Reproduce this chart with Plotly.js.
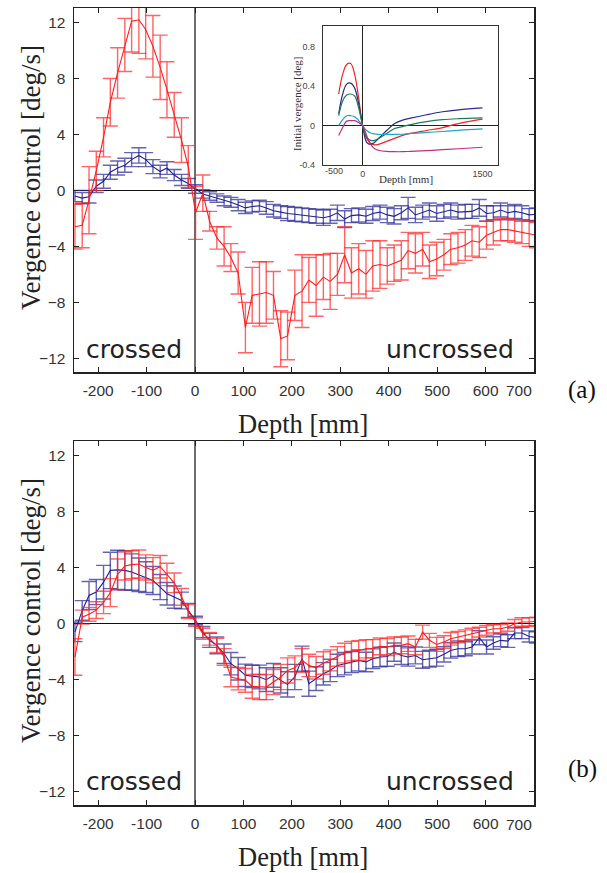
<!DOCTYPE html>
<html>
<head>
<meta charset="utf-8">
<script src="https://cdn.plot.ly/plotly-3.0.1.min.js"></script>
<style>html,body{margin:0;padding:0;background:#fff;}#chart{width:607px;height:873px;}</style>
</head>
<body>
<div id="chart"></div>
<script>
// ---------- data (depth in mm, vergence control in deg/s) ----------
const depth = [-248, -233, -219, -204, -189, -175, -160, -145, -131, -116, -102, -87, -72, -58, -43, -28, -14,
  1, 16, 30, 45, 60, 74, 89, 104, 118, 133, 147, 162, 177, 191, 206, 221, 235, 250, 265, 279, 294, 309, 323,
  338, 353, 367, 382, 397, 411, 426, 440, 455, 470, 484, 499, 514, 528, 543, 558, 572, 587, 602, 616, 631,
  646, 660, 675, 690, 705];

// panel (a)
const aRed = [-2.6, -2.5, -0.7, 1.4, 3.8, 6.3, 8.4, 10.4, 12.1, 12.2, 11.5, 10.3, 8.8, 7.2, 5.4, 3.6, 1.7,
  -1.6, -0.2, -2.2, -3.4, -4.0, -4.8, -5.9, -9.8, -7.5, -7.4, -7.3, -7.5, -10.6, -10.4, -7.5, -7.2, -6.4, -6.8,
  -6.2, -6.5, -6.0, -4.6, -5.9, -5.6, -6.0, -5.4, -5.3, -5.4, -5.2, -5.0, -4.3, -4.5, -4.2, -5.1, -4.9, -4.6,
  -4.2, -4.1, -3.9, -3.6, -3.7, -3.2, -3.0, -2.8, -2.8, -2.9, -3.0, -3.1, -3.2];
const aRedErr = [1.6, 1.6, 2.4, 1.4, 1.4, 1.7, 1.8, 1.9, 2.2, 2.4, 2.1, 2.2, 2.3, 2.0, 1.6, 1.6, 1.5,
  1.9, 1.3, 0.7, 0.8, 1.4, 1.0, 1.5, 1.8, 2.0, 2.3, 2.2, 1.7, 2.0, 1.7, 1.8, 2.6, 1.6, 2.2, 1.6, 2.0, 1.5, 2.0,
  1.8, 1.8, 1.7, 1.8, 1.7, 1.3, 1.3, 1.4, 1.3, 1.4, 1.2, 1.2, 1.2, 1.1, 1.1, 1.1, 1.1, 1.1, 1.1, 1.0, 0.9, 0.8,
  0.8, 0.8, 0.8, 0.9, 0.9];
const aBlue = [-0.4, -0.55, -0.45, 0.3, 0.65, 1.3, 1.6, 1.8, 2.2, 2.5, 2.2, 1.7, 1.35, 1.6, 1.1, 0.75, 0.5,
  0.1, -0.25, -0.4, -0.55, -0.75, -0.85, -1.05, -1.25, -1.15, -1.1, -1.25, -1.45, -1.55, -1.65, -1.7, -1.75,
  -1.8, -1.85, -1.95, -1.85, -1.6, -2.05, -1.8, -1.75, -1.85, -1.65, -1.55, -1.75, -1.85, -1.6, -1.25, -1.75,
  -1.55, -1.4, -1.65, -1.5, -1.4, -1.55, -1.5, -1.5, -1.25, -1.65, -1.6, -1.4, -1.6, -1.5, -1.6, -1.75, -1.7];
const aBlueErr = [0.4, 0.4, 0.45, 0.45, 0.5, 0.5, 0.5, 0.5, 0.5, 0.55, 0.5, 0.5, 0.45, 0.45, 0.4, 0.4, 0.35,
  0.3, 0.3, 0.3, 0.3, 0.35, 0.35, 0.4, 0.4, 0.4, 0.4, 0.45, 0.45, 0.45, 0.5, 0.5, 0.5, 0.5, 0.5, 0.55, 0.5,
  0.55, 0.6, 0.5, 0.5, 0.5, 0.5, 0.5, 0.55, 0.55, 0.5, 0.75, 0.55, 0.5, 0.5, 0.55, 0.5, 0.5, 0.5, 0.5, 0.5,
  0.6, 0.55, 0.5, 0.5, 0.5, 0.5, 0.5, 0.45, 0.45];

// panel (b)
const bRed = [-2.4, 0.45, 0.65, 0.95, 1.5, 2.2, 3.5, 4.1, 4.2, 4.25, 4.0, 3.8, 4.05, 3.5, 2.9, 1.9, 0.85,
  0.1, -0.74, -1.10, -1.57, -2.40, -3.83, -3.95, -4.07, -4.50, -4.55, -4.55, -4.19, -3.83, -3.36, -3.17, -2.64,
  -3.0, -3.17, -2.83, -2.64, -2.36, -2.12, -1.98, -1.93, -1.81, -1.81, -1.64, -1.69, -1.57, -1.57, -1.45, -1.69,
  -0.62, -1.21, -1.50, -1.33, -1.10, -0.98, -0.86, -0.74, -0.62, -0.50, -0.38, -0.38, -0.26, -0.02, 0.1, 0.1, 0.15];
const bRedErr = [1.3, 0.5, 0.5, 0.6, 0.8, 1.0, 1.1, 1.0, 1.0, 1.0, 0.9, 0.9, 0.8, 0.8, 0.7, 0.6, 0.5,
  0.3, 0.4, 0.45, 0.5, 0.6, 0.7, 0.8, 0.85, 0.85, 0.9, 0.9, 0.9, 0.9, 0.9, 0.85, 0.85, 0.8, 0.8, 0.8, 0.75,
  0.7, 0.7, 0.7, 0.7, 0.65, 0.65, 0.6, 0.6, 0.6, 0.6, 0.55, 0.55, 0.5, 0.5, 0.5, 0.45, 0.45, 0.4, 0.4, 0.4,
  0.35, 0.35, 0.3, 0.3, 0.3, 0.3, 0.3, 0.3, 0.3];
const bBlue = [-0.6, 0.93, 2.0, 2.24, 2.95, 3.79, 3.83, 3.79, 3.67, 3.48, 3.31, 3.07, 2.60, 2.12, 1.88, 1.64, 0.93,
  0.21, -0.62, -1.21, -1.57, -2.17, -2.88, -3.24, -3.71, -3.79, -3.83, -4.02, -3.71, -4.07, -4.36, -3.83, -2.52,
  -4.31, -3.95, -3.60, -3.36, -3.0, -2.88, -2.76, -2.64, -2.76, -2.52, -2.40, -2.36, -2.05, -2.29, -2.40, -2.29,
  -2.60, -2.52, -2.45, -2.21, -1.93, -1.81, -1.81, -1.69, -1.02, -1.69, -1.40, -1.21, -1.26, -0.69, -0.69, -0.93, -1.0];
const bBlueErr = [0.7, 0.7, 1.0, 0.9, 1.2, 1.3, 1.4, 1.4, 1.3, 1.2, 1.1, 1.0, 0.9, 0.8, 0.8, 0.6, 0.5,
  0.3, 0.4, 0.5, 0.6, 0.7, 0.8, 0.8, 0.8, 0.8, 0.85, 0.85, 0.85, 0.9, 0.9, 0.9, 0.9, 0.9, 0.85, 0.8, 0.8, 0.8,
  0.8, 0.75, 0.75, 0.7, 0.7, 0.7, 0.7, 0.65, 0.65, 0.65, 0.6, 0.6, 0.6, 0.6, 0.55, 0.55, 0.55, 0.5, 0.5, 0.5,
  0.5, 0.45, 0.45, 0.45, 0.4, 0.4, 0.4, 0.4];

// inset: initial vergence [deg]
const insetDepth = [-300, -250, -200, -150, -100, -50, 0, 50, 100, 150, 200, 300, 400, 500, 600, 800, 1000, 1200, 1500];
const insetRed = [0.32, 0.52, 0.62, 0.63, 0.52, 0.28, 0.0, -0.13, -0.18, -0.195, -0.19, -0.16, -0.13, -0.10, -0.08, -0.05, -0.02, 0.02, 0.065];
const insetNavy = [0.12, 0.32, 0.42, 0.43, 0.38, 0.22, 0.0, -0.17, -0.19, -0.17, -0.13, -0.05, 0.02, 0.055, 0.075, 0.11, 0.14, 0.16, 0.18];
const insetGreen = [0.10, 0.25, 0.31, 0.32, 0.30, 0.18, 0.0, -0.12, -0.15, -0.15, -0.13, -0.08, -0.03, -0.01, 0.01, 0.04, 0.06, 0.07, 0.078];
const insetCyan = [0.0, 0.06, 0.10, 0.10, 0.09, 0.05, 0.0, -0.05, -0.075, -0.085, -0.09, -0.09, -0.09, -0.088, -0.08, -0.07, -0.06, -0.048, -0.034];
const insetMagenta = [-0.10, -0.02, 0.045, 0.05, 0.05, 0.03, 0.0, -0.10, -0.19, -0.235, -0.25, -0.262, -0.265, -0.265, -0.262, -0.255, -0.245, -0.235, -0.22];

const xTicks = [-200, -100, 0, 100, 200, 300, 400, 500, 600, 700];
const xTickText = ['-200', '-100', '0', '100', '200', '300', '400', '500', '600', ''];
const yTicks = [-12, -8, -4, 0, 4, 8, 12];

// ---------- styles ----------
const W = 607, H = 873;
const px = v => v / W, py = v => 1 - v / H;
const RED = '#ff1c1c', RED_ERR = 'rgba(255,40,40,0.72)';
const BLUE = '#202090', BLUE_ERR = 'rgba(40,40,150,0.72)';
const sans = 'Liberation Sans, Arial, sans-serif';
const serif = 'Liberation Serif, Times New Roman, serif';
const label = 'DejaVu Sans, Verdana, sans-serif';
const TICK = 15.5;

function series(y, err, color, ecolor, xa, ya) {
  return {
    x: depth, y: y, xaxis: xa, yaxis: ya, type: 'scatter', mode: 'lines',
    line: {color: color, width: 1.1}, hoverinfo: 'skip', showlegend: false,
    error_y: {type: 'data', array: err, visible: true, color: ecolor, thickness: 1.4, width: 7.5}
  };
}
function inset(y, color) {
  return {x: insetDepth, y: y, xaxis: 'x3', yaxis: 'y3', type: 'scatter', mode: 'lines',
    line: {color: color, width: 1.2, shape: 'spline', smoothing: 1}, showlegend: false, hoverinfo: 'skip'};
}

const data = [
  series(aBlue, aBlueErr, BLUE, BLUE_ERR, 'x', 'y'),
  series(aRed, aRedErr, RED, RED_ERR, 'x', 'y'),
  series(bBlue, bBlueErr, BLUE, BLUE_ERR, 'x2', 'y2'),
  series(bRed, bRedErr, RED, RED_ERR, 'x2', 'y2'),
  inset(insetRed, '#f02424'),
  inset(insetNavy, '#2a2a8c'),
  inset(insetGreen, '#1f7a58'),
  inset(insetCyan, '#1fa6c0'),
  inset(insetMagenta, '#c2307c')
];

function xAxis(anchor, domain) {
  return {anchor: anchor, domain: domain, range: [-250, 700], tickvals: xTicks, ticktext: xTickText,
    ticks: 'inside', ticklen: 5, tickwidth: 1, tickcolor: '#222', showline: true, mirror: 'ticks',
    linecolor: '#222', linewidth: 1.5, showgrid: false, zeroline: true, zerolinecolor: '#6e6e6e',
    zerolinewidth: 2, ticklabelstandoff: 4, tickfont: {family: sans, size: TICK, color: '#333'}};
}
function yAxis(anchor, domain) {
  return {anchor: anchor, domain: domain, range: [-12.98, 13.04], tickvals: yTicks,
    ticks: 'inside', ticklen: 5, tickwidth: 1, tickcolor: '#222', showline: true, mirror: 'ticks',
    linecolor: '#222', linewidth: 1.5, showgrid: false, zeroline: true, zerolinecolor: '#111',
    zerolinewidth: 1.5, ticklabelstandoff: 4, tickfont: {family: sans, size: TICK, color: '#333'}};
}

function note(text, x, y, size, family, color, extra) {
  return Object.assign({text: text, xref: 'paper', yref: 'paper', x: x, y: y, xanchor: 'center',
    yanchor: 'middle', showarrow: false, font: {family: family, size: size, color: color}}, extra || {});
}

const xDom = [px(74), px(534)];
const layout = {
  width: W, height: H, margin: {l: 0, r: 0, t: 0, b: 0},
  paper_bgcolor: '#fff', plot_bgcolor: 'rgba(0,0,0,0)', showlegend: false,
  xaxis: xAxis('y', xDom),
  yaxis: yAxis('x', [py(372), py(8)]),
  xaxis2: xAxis('y2', xDom),
  yaxis2: yAxis('x2', [py(805), py(441)]),
  xaxis3: {anchor: 'y3', domain: [px(322.7), px(497.7)], range: [-500, 1690],
    tickvals: [-500, 0, 1500], ticktext: ['', '0', '1500'], ticks: '', showline: true, mirror: true,
    linecolor: '#333', linewidth: 1, showgrid: false, zeroline: true, zerolinecolor: '#222', zerolinewidth: 1,
    ticklabelstandoff: 0, tickfont: {family: sans, size: 9, color: '#444'}},
  yaxis3: {anchor: 'x3', domain: [py(165), py(26)], range: [-0.4, 1.01],
    tickvals: [-0.4, 0, 0.4, 0.8], ticktext: ['-0.4', '0', '0.4', '0.8'], ticks: '', showline: true, mirror: true,
    linecolor: '#333', linewidth: 1, showgrid: false, zeroline: true, zerolinecolor: '#222', zerolinewidth: 1,
    ticklabelstandoff: 5, tickfont: {family: sans, size: 9, color: '#444'}},
  annotations: [
    note('Vergence control [deg/s]', px(31), py(178), 27, serif, '#222', {textangle: -90}),
    note('Vergence control [deg/s]', px(31), py(611), 27, serif, '#222', {textangle: -90}),
    note('Depth [mm]', px(303), py(424), 26.5, serif, '#222'),
    note('Depth [mm]', px(303), py(857), 26.5, serif, '#222'),
    note('700', 700, py(391), TICK, sans, '#333', {xref: 'x', xanchor: 'right'}),
    note('700', 700, py(824), TICK, sans, '#333', {xref: 'x2', xanchor: 'right'}),
    note('crossed', px(134), py(349), 25, label, '#222'),
    note('uncrossed', px(450), py(349), 25, label, '#222'),
    note('crossed', px(134), py(781), 25, label, '#222'),
    note('uncrossed', px(450), py(781), 25, label, '#222'),
    note('(a)', px(582), py(390), 25, serif, '#111'),
    note('(b)', px(582), py(769), 25, serif, '#111'),
    note('Initial vergence [deg]', px(297), py(104), 11, serif, '#333', {textangle: -90}),
    note('Depth [mm]', px(406), py(179), 11, serif, '#333'),
    note('-500', -500, py(171), 9, sans, '#444', {xref: 'x3', xanchor: 'left'})
  ]
};

Plotly.newPlot('chart', data, layout, {staticPlot: true, displayModeBar: false});
</script>
</body>
</html>
